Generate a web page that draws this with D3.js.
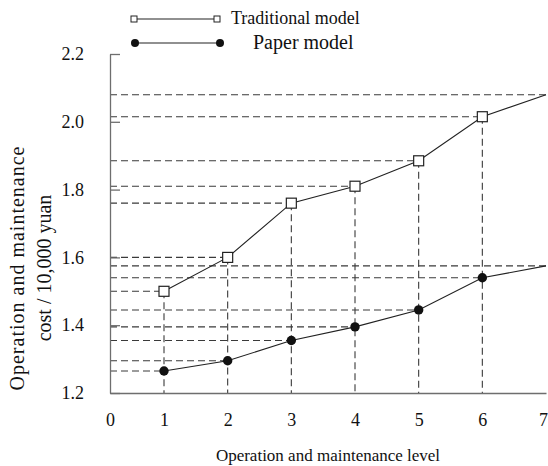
<!DOCTYPE html>
<html>
<head>
    <title>Operation and maintenance cost</title>
    <script src='https://d3js.org/d3.v7.min.js' charset='utf-8'></script>

    <style type="text/css">
        body {
            margin: 0;
            background: #fff;
        }
        .chart {
            display: block;
        }
        .chart text {
            font-family: "Liberation Serif";
            fill: #111;
        }
        .axis path, .axis line {
            stroke: #6e6e6e;
            stroke-width: 1.3;
        }
    </style>
</head>
<body>
    <svg class='chart'></svg>

    <script type='text/javascript'>
    var width = 548;
    var height = 466;

    // values
    var levels = [1, 2, 3, 4, 5, 6, 7];
    var traditional = [1.50, 1.60, 1.76, 1.81, 1.885, 2.015, 2.08];
    var paper = [1.265, 1.295, 1.355, 1.395, 1.445, 1.54, 1.575];
    var xTicks = [0, 1, 2, 3, 4, 5, 6, 7];
    var yTicks = [1.2, 1.4, 1.6, 1.8, 2.0, 2.2];
    var seriesNames = ['Traditional model', 'Paper model'];

    // the first unit on the original x axis is a little shorter than the rest
    var x = d3.scaleLinear()
        .domain([0, 1, 7])
        .range([110, 164, 546]);

    var y = d3.scaleLinear()
        .domain([1.2, 2.2])
        .range([393, 54]);

    var chart = d3.select('.chart')
        .attr('width', width)
        .attr('height', height);

    var tradData = levels.map(function (l, i) { return { level: l, value: traditional[i] }; });
    var paperData = levels.map(function (l, i) { return { level: l, value: paper[i] }; });

    // dashed guide lines
    var guides = chart.append('g')
        .attr('fill', 'none')
        .attr('stroke', '#3a3a3a')
        .attr('stroke-width', 1.1)
        .attr('stroke-dasharray', '7,4');

    guides.selectAll('.hguide')
        .data(tradData.concat(paperData))
        .enter()
            .append('line')
            .attr('class', 'hguide')
            .attr('x1', x(0))
            .attr('x2', function (d) { return x(d.level); })
            .attr('y1', function (d) { return y(d.value); })
            .attr('y2', function (d) { return y(d.value); });

    guides.selectAll('.vguide')
        .data(tradData.filter(function (d) { return d.level < 7; }))
        .enter()
            .append('line')
            .attr('class', 'vguide')
            .attr('x1', function (d) { return x(d.level); })
            .attr('x2', function (d) { return x(d.level); })
            .attr('y1', function (d) { return y(d.value); })
            .attr('y2', y(1.2));

    // axes
    var yAxis = d3.axisLeft(y)
        .tickValues(yTicks)
        .tickFormat(d3.format('.1f'))
        .tickSizeInner(-10)
        .tickSizeOuter(0)
        .tickPadding(26);

    chart.append('g')
        .attr('class', 'axis')
        .attr('transform', 'translate(' + x(0) + ',0)')
        .call(yAxis)
        .attr('font-family', 'Liberation Serif')
        .attr('font-size', 18);

    var xAxis = d3.axisBottom(x)
        .tickValues(xTicks)
        .tickFormat(d3.format('d'))
        .tickSize(0)
        .tickPadding(20);

    var xg = chart.append('g')
        .attr('class', 'axis')
        .attr('transform', 'translate(0,' + y(1.2) + ')')
        .call(xAxis)
        .attr('font-family', 'Liberation Serif')
        .attr('font-size', 18);

    // last label sits right on the edge, nudge it in
    xg.selectAll('text')
        .filter(function (d) { return d === 7; })
        .attr('dx', -3);

    // series lines
    var line = d3.line()
        .x(function (d) { return x(d.level); })
        .y(function (d) { return y(d.value); });

    chart.append('path')
        .datum(tradData)
        .attr('d', line)
        .attr('fill', 'none')
        .attr('stroke', '#222')
        .attr('stroke-width', 1.1);

    chart.append('path')
        .datum(paperData)
        .attr('d', line)
        .attr('fill', 'none')
        .attr('stroke', '#222')
        .attr('stroke-width', 1.1);

    // markers
    chart.selectAll('.sq')
        .data(tradData.filter(function (d) { return d.level < 7; }))
        .enter()
            .append('rect')
            .attr('class', 'sq')
            .attr('x', function (d) { return x(d.level) - 5; })
            .attr('y', function (d) { return y(d.value) - 5; })
            .attr('width', 10)
            .attr('height', 10)
            .attr('fill', '#fff')
            .attr('stroke', '#222')
            .attr('stroke-width', 1.2);

    chart.selectAll('.dot')
        .data(paperData.filter(function (d) { return d.level < 7; }))
        .enter()
            .append('circle')
            .attr('class', 'dot')
            .attr('cx', function (d) { return x(d.level); })
            .attr('cy', function (d) { return y(d.value); })
            .attr('r', 4.7)
            .attr('fill', '#111');

    // axis titles
    chart.append('text')
        .attr('x', 328)
        .attr('y', 461)
        .attr('text-anchor', 'middle')
        .attr('font-size', 17)
        .text('Operation and maintenance level');

    var yTitle = chart.append('text')
        .attr('transform', 'translate(0,268) rotate(-90)')
        .attr('text-anchor', 'middle')
        .attr('font-size', 20);

    yTitle.append('tspan')
        .attr('x', 0)
        .attr('y', 24)
        .attr('letter-spacing', 1)
        .text('Operation and maintenance');

    yTitle.append('tspan')
        .attr('x', 0)
        .attr('y', 51)
        .text('cost / 10,000 yuan');

    // legend
    var legend = chart.append('g');

    legend.append('line')
        .attr('x1', 134).attr('x2', 217)
        .attr('y1', 19).attr('y2', 19)
        .attr('stroke', '#222').attr('stroke-width', 1.1);

    legend.selectAll('.lsq')
        .data([134, 217])
        .enter()
            .append('rect')
            .attr('x', function (d) { return d - 3; })
            .attr('y', 16)
            .attr('width', 6)
            .attr('height', 6)
            .attr('fill', '#fff')
            .attr('stroke', '#222');

    legend.append('text')
        .attr('x', 231)
        .attr('y', 24)
        .attr('font-size', 18)
        .text(seriesNames[0]);

    legend.append('line')
        .attr('x1', 135).attr('x2', 220)
        .attr('y1', 43).attr('y2', 43)
        .attr('stroke', '#222').attr('stroke-width', 1.1);

    legend.selectAll('.ldot')
        .data([135, 220])
        .enter()
            .append('circle')
            .attr('cx', function (d) { return d; })
            .attr('cy', 43)
            .attr('r', 4)
            .attr('fill', '#111');

    legend.append('text')
        .attr('x', 253)
        .attr('y', 49)
        .attr('font-size', 20)
        .text(seriesNames[1]);
    </script>
</body>
</html>
